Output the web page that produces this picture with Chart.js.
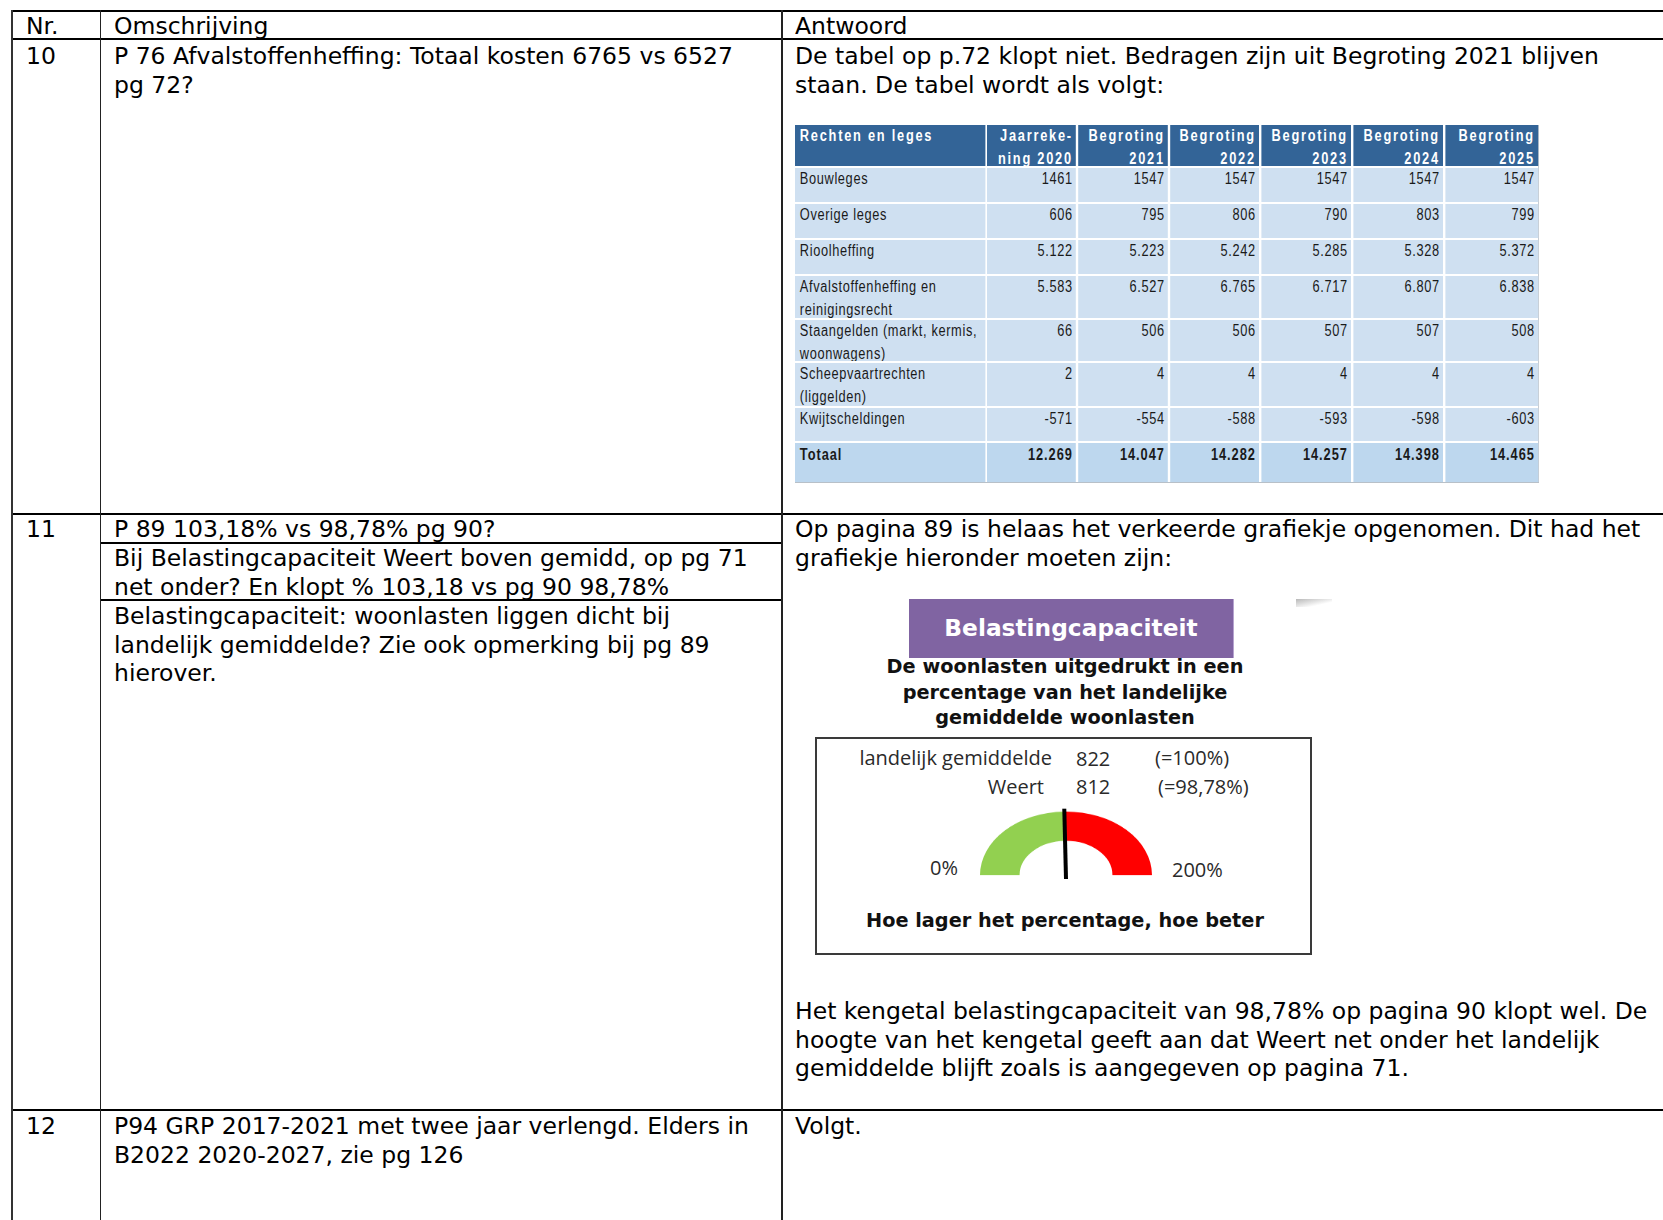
<!DOCTYPE html>
<html lang="nl">
<head>
<meta charset="utf-8">
<title>Belastingcapaciteit</title>
<script src="https://cdn.jsdelivr.net/npm/chart.js@4.4.0/dist/chart.umd.min.js"></script>
<style>
  html, body { margin: 0; padding: 0; background: #fff; }
  body { width: 1663px; height: 1220px; position: relative; overflow: hidden; }
  .t { position: absolute; white-space: nowrap; font: 23.5px "DejaVu Sans", Verdana, sans-serif; line-height: 28.6px; color: #000; }
  .hl { position: absolute; background: #000; height: 2px; }
  .vl { position: absolute; background: #222; width: 1.5px; }

  /* de tabel wordt horizontaal samengedrukt (smal lettertype zoals Arial Narrow) */
  #tbl { position: absolute; left: 795px; top: 125px; display: grid;
         grid-template-columns: 237.5px 111.25px 112.5px 111.25px 112.5px 112.5px 116.25px;
         grid-template-rows: 41px 34px 34px 34px 42px 41px 43px 33px 39px;
         column-gap: 2.5px; row-gap: 2px; background: #fff;
         border-bottom: 1px solid #b8c0c8; border-right: 1px solid #b8c0c8;
         transform: scaleX(0.8); transform-origin: 0 0;
         font-family: "Liberation Sans", Arial, sans-serif; font-size: 16px; line-height: 22.5px; }
  #tbl div { background: #cfe0f1; color: #1a1a1a; white-space: pre; padding: 0 4px 0 6px; letter-spacing: 0.8px; overflow: hidden; }
  #tbl div.num { text-align: right; padding-right: 4px; }
  #tbl div.head { background: #336497; color: #fff; font-weight: bold; letter-spacing: 2.2px; }
  #tbl div.tot { background: #bdd7ee; font-weight: bold; letter-spacing: 1.2px; padding-top: 1px; }

  .purple { position: absolute; left: 909px; top: 599px; width: 324px; height: 59px; background: #8064a2;
            border-right: 1px solid #b6a3cf; color: #fff; font: bold 23.3px "DejaVu Sans", sans-serif;
            line-height: 57px; text-align: center; }
  .shade { position: absolute; left: 1296px; top: 599px; width: 36px; height: 8px;
           background: linear-gradient(to bottom right, #9a9a9a, rgba(255,255,255,0) 70%); opacity: 0.7; }
  .sub { position: absolute; left: 815px; width: 500px; text-align: center; font: bold 19.3px "DejaVu Sans", sans-serif; line-height: 25.5px; color: #111; }
  .box { position: absolute; left: 815px; top: 737px; width: 493px; height: 214px; border: 2px solid #3a3a3a; }
  .g { position: absolute; white-space: nowrap; font: 20px "Open Sans", "Noto Sans", sans-serif; color: #2a2a2a; line-height: 24px; }
  #gaugeWrap { position: absolute; left: 946px; top: 799px; width: 240px; height: 120px;
               transform: scaleY(0.74); transform-origin: 0 0; }
</style>
</head>
<body>

<!-- rasterlijnen van de hoofdtabel -->
<div class="hl" style="left:11px; top:10px; width:1652px;"></div>
<div class="hl" style="left:11px; top:38px; width:1652px;"></div>
<div class="hl" style="left:11px; top:513px; width:1652px;"></div>
<div class="hl" style="left:100px; top:542px; width:682px;"></div>
<div class="hl" style="left:100px; top:599px; width:682px;"></div>
<div class="hl" style="left:11px; top:1109px; width:1652px;"></div>
<div class="vl" style="left:11px; top:10px; height:1210px; width:2px; background:#333;"></div>
<div class="vl" style="left:99.5px; top:10px; height:1210px;"></div>
<div class="vl" style="left:781px; top:10px; height:1210px;"></div>

<!-- kop -->
<div class="t" style="left:26px; top:12px;">Nr.</div>
<div class="t" style="left:114px; top:12px;">Omschrijving</div>
<div class="t" style="left:795px; top:12px;">Antwoord</div>

<!-- vraag 10 -->
<div class="t" style="left:26px; top:42px;">10</div>
<div class="t" style="left:114px; top:42px;">P 76 Afvalstoffenheffing: Totaal kosten 6765 vs 6527<br>pg 72?</div>
<div class="t" style="left:795px; top:42px;">De tabel op p.72 klopt niet. Bedragen zijn uit Begroting 2021 blijven<br>staan. De tabel wordt als volgt:</div>
<div id="tbl"></div>

<!-- vraag 11 -->
<div class="t" style="left:26px; top:515px;">11</div>
<div class="t" style="left:114px; top:515px;">P 89 103,18% vs 98,78% pg 90?</div>
<div class="t" style="left:114px; top:544px;">Bij Belastingcapaciteit Weert boven gemidd, op pg 71<br>net onder? En klopt % 103,18 vs pg 90 98,78%</div>
<div class="t" style="left:114px; top:602px;">Belastingcapaciteit: woonlasten liggen dicht bij<br>landelijk gemiddelde? Zie ook opmerking bij pg 89<br>hierover.</div>
<div class="t" style="left:795px; top:515px;">Op pagina 89 is helaas het verkeerde grafiekje opgenomen. Dit had het<br>grafiekje hieronder moeten zijn:</div>

<div class="purple">Belastingcapaciteit</div>
<div class="shade"></div>
<div class="sub" style="top:654px;">De woonlasten uitgedrukt in een<br>percentage van het landelijke<br>gemiddelde woonlasten</div>
<div class="box"></div>
<div class="g" id="lblLand" style="right:611px; top:746px;"></div>
<div class="g" id="valLand" style="left:1076px; top:747px;"></div>
<div class="g" id="pctLand" style="left:1155px; top:746px;"></div>
<div class="g" id="lblWeert" style="right:619px; top:775px;"></div>
<div class="g" id="valWeert" style="left:1076px; top:775px;"></div>
<div class="g" id="pctWeert" style="left:1158px; top:775px;"></div>
<div class="g" id="minLbl" style="left:930px; top:856px;"></div>
<div class="g" id="maxLbl" style="left:1172px; top:858px;"></div>
<div id="gaugeWrap"><canvas id="gauge" width="240" height="120"></canvas></div>
<div class="sub" style="top:908px;">Hoe lager het percentage, hoe beter</div>

<div class="t" style="left:795px; top:997px;">Het kengetal belastingcapaciteit van 98,78% op pagina 90 klopt wel. De<br>hoogte van het kengetal geeft aan dat Weert net onder het landelijk<br>gemiddelde blijft zoals is aangegeven op pagina 71.</div>

<!-- vraag 12 -->
<div class="t" style="left:26px; top:1112px;">12</div>
<div class="t" style="left:114px; top:1112px;">P94 GRP 2017-2021 met twee jaar verlengd. Elders in<br>B2022 2020-2027, zie pg 126</div>
<div class="t" style="left:795px; top:1112px;">Volgt.</div>

<script>
// Tabel rechten en leges (bedragen x 1.000)
const tableTitle = 'Rechten en leges';
const tableColumns = ['Jaarreke-\nning 2020', 'Begroting\n2021', 'Begroting\n2022', 'Begroting\n2023', 'Begroting\n2024', 'Begroting\n2025'];
const tableRows = ['Bouwleges', 'Overige leges', 'Rioolheffing', 'Afvalstoffenheffing en\nreinigingsrecht',
  'Staangelden (markt, kermis,\nwoonwagens)', 'Scheepvaartrechten\n(liggelden)', 'Kwijtscheldingen', 'Totaal'];
const jaarrekening2020 = [1461, 606, 5122, 5583, 66, 2, -571, 12269];
const begroting2021 = [1547, 795, 5223, 6527, 506, 4, -554, 14047];
const begroting2022 = [1547, 806, 5242, 6765, 506, 4, -588, 14282];
const begroting2023 = [1547, 790, 5285, 6717, 507, 4, -593, 14257];
const begroting2024 = [1547, 803, 5328, 6807, 507, 4, -598, 14398];
const begroting2025 = [1547, 799, 5372, 6838, 508, 4, -603, 14465];

// Gauge belastingcapaciteit
const landelijkGemiddelde = 822;
const woonlastenWeert = 812;
const gaugeLabels = ['Weert', 'Tot 200%'];
const gaugeValues = [98.78, 101.22];
const gaugeColors = ['#92d050', '#ff0000'];
const gaugeTicks = ['0%', '200%'];

// In het origineel staat de punt alleen bij de grotere bedragen
function fmt(n) {
  return Math.abs(n) >= 5000 ? n.toLocaleString('nl-NL') : String(n);
}

function buildTable() {
  const tbl = document.getElementById('tbl');
  const cols = [jaarrekening2020, begroting2021, begroting2022, begroting2023, begroting2024, begroting2025];
  const add = (text, cls) => {
    const d = document.createElement('div');
    d.className = cls;
    d.textContent = text;
    tbl.appendChild(d);
  };
  add(tableTitle, 'head');
  tableColumns.forEach(c => add(c, 'head num'));
  tableRows.forEach((label, i) => {
    const isTotal = i === tableRows.length - 1;
    add(label, isTotal ? 'tot' : '');
    cols.forEach(col => add(fmt(col[i]), isTotal ? 'tot num' : 'num'));
  });
}

function buildGauge() {
  document.getElementById('lblLand').textContent = 'landelijk gemiddelde';
  document.getElementById('valLand').textContent = landelijkGemiddelde;
  document.getElementById('pctLand').textContent = '(=100%)';
  document.getElementById('lblWeert').textContent = 'Weert';
  document.getElementById('valWeert').textContent = woonlastenWeert;
  document.getElementById('pctWeert').textContent = '(=' + gaugeValues[0].toLocaleString('nl-NL') + '%)';
  document.getElementById('minLbl').textContent = gaugeTicks[0];
  document.getElementById('maxLbl').textContent = gaugeTicks[1];

  // wijzer op de grens tussen groen en rood
  const needle = {
    id: 'needle',
    afterDatasetsDraw(chart) {
      const arc = chart.getDatasetMeta(0).data[0];
      const { x, y, endAngle, outerRadius } = arc.getProps(['x', 'y', 'endAngle', 'outerRadius'], true);
      const ctx = chart.ctx;
      const len = outerRadius + 4;
      ctx.save();
      ctx.strokeStyle = '#000';
      ctx.lineWidth = 4;
      ctx.beginPath();
      ctx.moveTo(x, y + 5);
      ctx.lineTo(x + Math.cos(endAngle) * len, y + Math.sin(endAngle) * len);
      ctx.stroke();
      ctx.restore();
    }
  };

  new Chart(document.getElementById('gauge'), {
    type: 'doughnut',
    data: {
      labels: gaugeLabels,
      datasets: [{ data: gaugeValues, backgroundColor: gaugeColors, borderWidth: 0 }]
    },
    options: {
      responsive: false,
      animation: false,
      events: [],
      rotation: -90,
      circumference: 180,
      radius: 86,
      cutout: '54%',
      layout: { padding: 0 },
      plugins: { legend: { display: false }, tooltip: { enabled: false } }
    },
    plugins: [needle]
  });
}

document.addEventListener('DOMContentLoaded', () => {
  buildTable();
  buildGauge();
});
</script>
</body>
</html>
